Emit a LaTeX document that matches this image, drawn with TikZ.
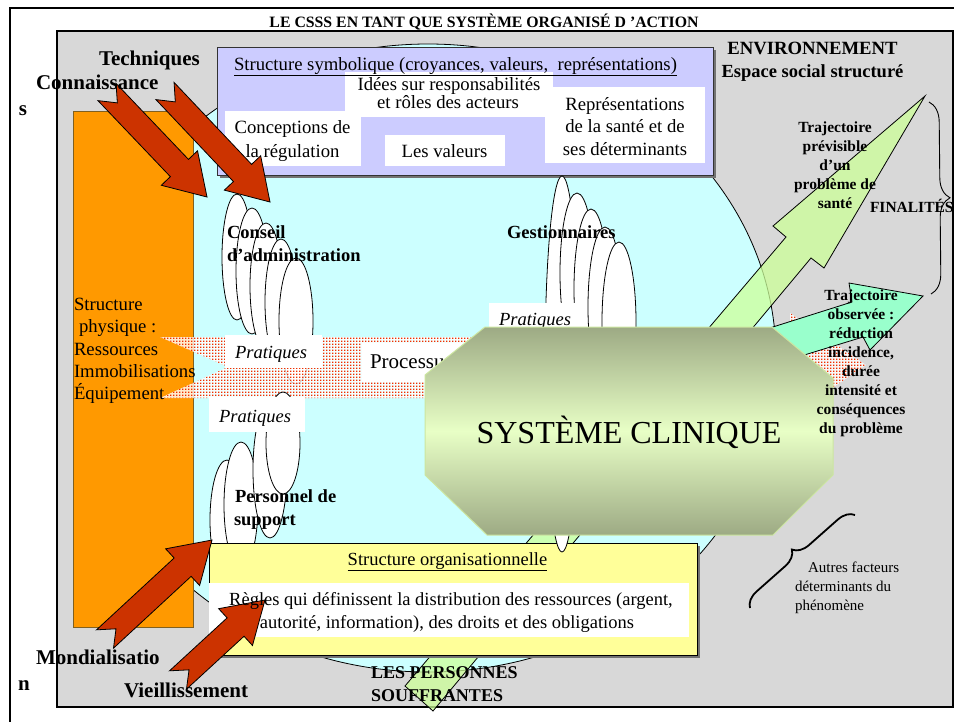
\documentclass[tikz,border=0pt]{standalone}
\usepackage{fontspec}
\setmainfont{Liberation Serif}
\usetikzlibrary{calc,patterns,decorations.pathreplacing}
\definecolor{envgray}{HTML}{D8D8D8}
\definecolor{cyanbg}{HTML}{CCFFFF}
\definecolor{orng}{HTML}{FF9900}
\definecolor{orngdark}{HTML}{806020}
\definecolor{lav}{HTML}{CCCCFF}
\definecolor{yel}{HTML}{FFFF99}
\definecolor{redarr}{HTML}{CC3300}
\definecolor{mint}{HTML}{99FFCC}
\definecolor{lgreen}{HTML}{CCFF99}
\definecolor{olv}{HTML}{9DAA84}
\definecolor{olvlight}{HTML}{E8FFC6}
\definecolor{octedge}{HTML}{CCE6A0}
\definecolor{dotred}{HTML}{F03000}
\pgfdeclarepatternformonly{reddots}{\pgfpointorigin}{\pgfpoint{2.6pt}{2.6pt}}{\pgfpoint{2.6pt}{2.6pt}}{\pgfpathrectangle{\pgfpointorigin}{\pgfpoint{1.7pt}{1.6pt}}\pgfusepath{fill}}
\newcommand\setfs[1]{\fontsize{#1}{#1}\selectfont}
\tikzset{
 lbl/.style={inner sep=0pt, outer sep=0pt},
 bl/.style={lbl, anchor=base west},
 bc/.style={lbl, anchor=base},
 reg/.style={font=\setfs{18.7}},
 regs/.style={font=\setfs{15}},
 bigb/.style={font=\setfs{21}\bfseries},
 midb/.style={font=\setfs{18.5}\bfseries},
 smb/.style={font=\setfs{15.5}\bfseries},
 prat/.style={font=\setfs{18.5}\itshape},
 actor/.style={fill=white, draw=black, line width=0.8pt},
 redarrow/.style={fill=redarr, draw=black, line width=0.8pt, line join=miter},
 whitebox/.style={fill=white, draw=none},
}
\newcommand\actorell[4]{\draw[actor] (#1,#2) ellipse [x radius=#3pt, y radius=#4pt];}
\newcommand\notcharrow[2]{%
 \draw[redarrow] ($(#1)!12.5pt!90:(#2)$) -- ($(#2)!40pt!(#1)!12.5pt!-90:(#1)$)
   -- ($(#2)!40pt!(#1)!25pt!-90:(#1)$) -- (#2)
   -- ($(#2)!40pt!(#1)!25pt!90:(#1)$) -- ($(#2)!40pt!(#1)!12.5pt!90:(#1)$)
   -- ($(#1)!12.5pt!-90:(#2)$) -- ($(#1)!15pt!(#2)$) -- cycle;}
\newcommand\bandpath{(160,337) -- (790,337) -- (790,313) -- (866,365) -- (790,417) -- (790,398) -- (160,398) -- (228,367) -- cycle}
\begin{document}
\begin{tikzpicture}[x=1pt,y=-1pt,line width=1pt]
\useasboundingbox (0,0) rectangle (954,721);
\fill[white] (0,0) rectangle (954,721);
\draw[line width=2.5pt] (10,8) rectangle (975,745);
\draw[fill=envgray, line width=1.8pt] (57,31) rectangle (953,707);
% central circle
\draw[fill=cyanbg, line width=0.8pt] (428,358) ellipse [x radius=348pt, y radius=314pt];
% physical structure
\draw[fill=orng, draw=orngdark] (73,111) rectangle (193,627);
% symbolic structure
\fill[black!55] (220,50) rectangle (716,178);
\draw[fill=lav, draw=black!80] (217,47) rectangle (713,175);
\fill[whitebox] (345,72) rectangle (553,117);
\fill[whitebox] (225,111) rectangle (361,166);
\fill[whitebox] (385,135) rectangle (505,166);
\fill[whitebox] (545,87) rectangle (705,163);
% Conseil d'administration
\actorell{237}{257}{15}{63}
\actorell{252}{271}{16}{63}
\actorell{266}{286}{16}{63}
\actorell{281}{302}{16}{63}
\actorell{296}{321}{17}{63}
% process band
\path[fill=white, fill opacity=0.8] \bandpath;
\path[pattern=reddots, pattern color=dotred] \bandpath;
% Personnel de support
\actorell{227}{520}{17}{60}
\actorell{241}{505}{17}{63}
\actorell{270}{470}{17}{68}
\actorell{283}{443}{17}{51}
\fill[whitebox] (225,335) rectangle (322,368);
\fill[whitebox] (209,397) rectangle (305,432);
\fill[whitebox] (362,343) rectangle (470,382);
\node[bl, font=\setfs{21}] (proc) at (370,368) {Processus};
% big trajectory arrow
\draw[fill=lgreen, fill opacity=0.75, line width=0.8pt] (925,96) -- (824,268) -- (811,258) -- (433,711) -- (405,686) -- (786,237) -- (773,226) -- cycle;
% organisational structure
\fill[black!55] (212,546) rectangle (700,658);
\draw[fill=yel, draw=black] (209,543) rectangle (697,655);
\fill[whitebox] (209,583) rectangle (689,637);
% Gestionnaires
\actorell{562}{364}{17}{188}
\actorell{577}{273}{17}{80}
\actorell{591}{289}{17}{80}
\actorell{605}{307}{17}{80}
\actorell{619}{322}{17}{80}
\fill[whitebox] (489,303) rectangle (577,330);
\node[bl, prat] (prat3) at (499,325) {Pratiques};
% observed trajectory arrow
\draw[fill=mint, line width=0.8pt] (700,350) -- (852,302) -- (849,283) -- (923,296) -- (870,350) -- (863,337) -- (700,387) -- cycle;
% clinical system
\path[draw=octedge, line width=1pt, top color=olv, bottom color=olv, middle color=olvlight]
  (485,327) -- (772,327) -- (833,378) -- (833,475) -- (773,535) -- (487,535) -- (425,475) -- (425,375) -- cycle;
\node[bc, font=\setfs{32}] (clin) at (629,443) {SYSTÈME CLINIQUE};
% red arrows
\coordinate (aT) at (107,92);  \coordinate (aP) at (207,197);
\coordinate (bT) at (165,91);  \coordinate (bP) at (270,202);
\coordinate (cT) at (105,639); \coordinate (cP) at (212,540);
\coordinate (dT) at (178,680); \coordinate (dP) at (265,600);
\notcharrow{aT}{aP}
\notcharrow{bT}{bP}
\notcharrow{cT}{cP}
\notcharrow{dT}{dP}
% braces
\coordinate (finA) at (929,102); \coordinate (finB) at (931,294);
\draw[decorate, decoration={brace, amplitude=20pt}, line width=0.9pt] (finA) -- (finB);
\coordinate (autA) at (750,608); \coordinate (autB) at (855,515);
\draw[decorate, decoration={brace, amplitude=16pt}, line width=1.8pt] (autA) -- (autB);
% texts
\node[bc, font=\setfs{15.8}\bfseries] (title) at (484,27) {LE CSSS EN TANT QUE SYSTÈME ORGANISÉ D ’ACTION};
\node[bl, bigb] (tech) at (99,65) {Techniques};
\node[bl, bigb] (conn) at (36,89) {Connaissance};
\node[bl, bigb] (conn2) at (19,115) {s};
\node[bl, bigb] (mond) at (36,664) {Mondialisatio};
\node[bl, bigb] (mond2) at (18,690) {n};
\node[bl, bigb] (vieil) at (124,697) {Vieillissement};
\node[bl, reg] (symb) at (234,70) {\underline{Structure symbolique (croyances, valeurs,\ \ représentations)}};
\node[bc, reg] (idee1) at (449,90) {Idées sur responsabilités};
\node[bc, reg] (idee2) at (448,108) {et rôles des acteurs};
\node[bc, reg] (conc1) at (292.5,133) {Conceptions de};
\node[bc, reg] (conc2) at (292.5,157) {la régulation};
\node[bc, reg] (val) at (444.5,157) {Les valeurs};
\node[bc, reg] (rep1) at (625,110) {Représentations};
\node[bc, reg] (rep2) at (625,132) {de la santé et de};
\node[bc, reg] (rep3) at (625,155) {ses déterminants};
\node[bc, font=\setfs{18.7}\bfseries] (env1) at (812.5,54) {ENVIRONNEMENT};
\node[bc, midb] (env2) at (812.5,77) {Espace social structuré};
\node[bc, smb] (tp1) at (835,132) {Trajectoire};
\node[bc, smb] (tp2) at (835,151) {prévisible};
\node[bc, smb] (tp3) at (835,170) {d’un};
\node[bc, smb] (tp4) at (835,189) {problème de};
\node[bc, smb] (tp5) at (835,208) {santé};
\node[bl, smb] (fin) at (870,212) {FINALITÉS};
\node[bc, smb] (to1) at (861,300) {Trajectoire};
\node[bc, smb] (to2) at (861,319) {observée :};
\node[bc, smb] (to3) at (861,338) {réduction};
\node[bc, smb] (to4) at (861,357) {incidence,};
\node[bc, smb] (to5) at (861,376) {durée};
\node[bc, smb] (to6) at (861,395) {intensité et};
\node[bc, smb] (to7) at (861,414) {conséquences};
\node[bc, smb] (to8) at (861,433) {du problème};
\node[bl, reg] (ph1) at (74,310) {Structure};
\node[bl, reg] (ph2) at (79,332) {physique :};
\node[bl, reg] (ph3) at (74,355) {Ressources};
\node[bl, reg] (ph4) at (74,377) {Immobilisations};
\node[bl, reg] (ph5) at (74,399) {Équipement};
\node[bl, prat] (prat1) at (235,358) {Pratiques};
\node[bl, prat] (prat2) at (219,422) {Pratiques};
\node[bl, midb] (cons1) at (227,238) {Conseil};
\node[bl, midb] (cons2) at (227,261) {d’administration};
\node[bl, midb] (gest) at (507,238) {Gestionnaires};
\node[bl, midb] (pers1) at (235,502) {Personnel de};
\node[bl, midb] (pers2) at (234,525) {support};
\node[bc, font=\setfs{18.5}] (org) at (447.5,565) {\underline{Structure organisationnelle}};
\node[bc, font=\setfs{18.5}] (reg1) at (451,605) {Règles qui définissent la distribution des ressources (argent,};
\node[bc, font=\setfs{18.5}] (reg2) at (447,628) {autorité, information), des droits et des obligations};
\node[bl, font=\setfs{18}\bfseries] (pers3) at (371,678) {LES PERSONNES};
\node[bl, font=\setfs{18}\bfseries] (pers4) at (371,701) {SOUFFRANTES};
\node[bl, regs] (aut1) at (808,572) {Autres facteurs};
\node[bl, regs] (aut2) at (795,591) {déterminants du};
\node[bl, regs] (aut3) at (795,610) {phénomène};
\end{tikzpicture}
\end{document}
